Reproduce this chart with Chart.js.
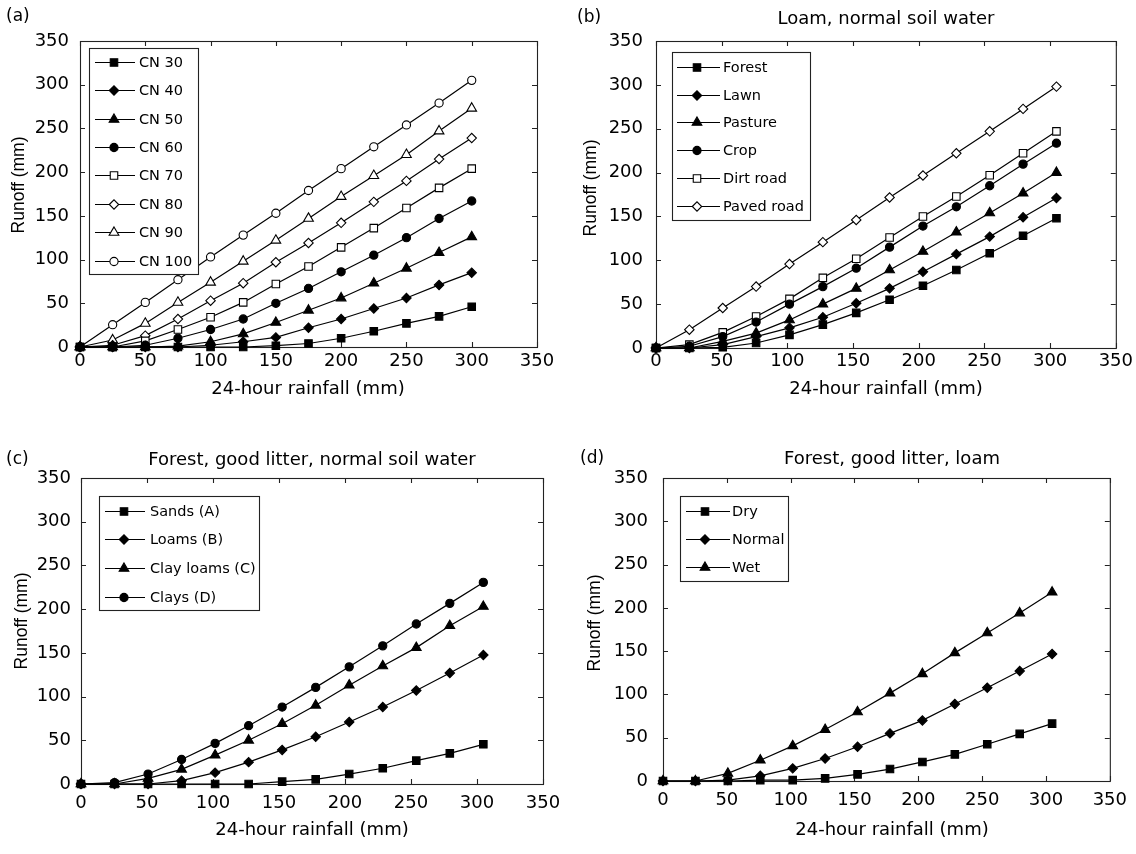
<!DOCTYPE html>
<html>
<head>
<title>Runoff vs 24-hour rainfall</title>
<script src="https://cdn.jsdelivr.net/npm/chart.js"></script>
<style>
  body { margin: 0; background: #fff; }
  #wrap { position: relative; width: 1136px; height: 854px; }
  #wrap canvas { position: absolute; left: 0; top: 0; }
</style>
</head>
<body>
<div id="wrap">
  <canvas id="chartA" width="1136" height="854"></canvas>
  <canvas id="chartB" width="1136" height="854"></canvas>
  <canvas id="chartC" width="1136" height="854"></canvas>
  <canvas id="chartD" width="1136" height="854"></canvas>
</div>
<script>
// rainfall steps (mm); (b)-(d) are 1-inch steps
var rainA = [0, 25, 50, 75, 100, 125, 150, 175, 200, 225, 250, 275, 300];
var rainB = [0, 25.4, 50.8, 76.2, 101.6, 127, 152.4, 177.8, 203.2, 228.6, 254, 279.4, 304.8];
var axisTicks = [0, 50, 100, 150, 200, 250, 300, 350];

// (a) curve numbers
var labelsA = ['CN 30', 'CN 40', 'CN 50', 'CN 60', 'CN 70', 'CN 80', 'CN 90', 'CN 100'];
var cn30 = [0, 0, 0, 0, 0, 0, 1.5, 4, 10, 18, 27, 35, 46];
var cn40 = [0, 0, 0, 0, 2, 6, 11, 22, 32, 44, 56, 71, 85];
var cn50 = [0, 0, 0, 1, 6, 15, 28, 42, 56, 73, 90, 108, 126];
var cn60 = [0, 0, 2, 10, 20, 32, 50, 67, 86, 105, 125, 147, 167];
var cn70 = [0, 0, 7, 20, 34, 51, 72, 92, 114, 136, 159, 182, 204];
var cn80 = [0, 2, 13, 32, 53, 73, 97, 119, 142, 166, 190, 215, 239];
var cn90 = [0, 8, 27, 51, 74, 98, 122, 147, 172, 196, 220, 247, 273];
var cn100 = [0, 25.5, 51, 77, 103, 128, 153, 179, 204, 229, 254, 279, 305];

// (b) land use, loam, normal soil water
var labelsB = ['Forest', 'Lawn', 'Pasture', 'Crop', 'Dirt road', 'Paved road'];
var forest = [0, 0, 0.8, 5.7, 15, 26.6, 40, 55, 71, 89, 108, 128, 148];
var lawn = [0, 0, 3.8, 13, 23, 35, 51, 68, 87, 107, 127, 149, 171];
var pasture = [0, 0, 7.6, 17, 32, 50, 68, 89, 110, 132, 154, 176.5, 200];
var crop = [0, 2, 13, 29.6, 50, 70, 91, 115, 139, 161, 185, 209.6, 233.5];
var dirtRoad = [0, 3.8, 17.8, 36, 56, 80, 101.7, 126, 150, 172.7, 197, 222, 247];
var pavedRoad = [0, 20.9, 45.6, 70, 95.7, 120.7, 146, 171.6, 196.7, 222, 247, 272.6, 298];

// (c) soil groups
var labelsC = ['Sands (A)', 'Loams (B)', 'Clay loams (C)', 'Clays (D)'];
var sands = [0, 0, 0, 0, 0, 0, 2.7, 5.3, 11.4, 18, 26.7, 35, 45.4];
var loams = [0, 0, 0, 3.8, 13, 25, 39, 54, 71, 88, 107, 127, 147.5];
var clayLoams = [0, 0, 6.5, 16.8, 33, 50, 69, 90, 113, 135, 156, 181, 203];
var clays = [0, 1.5, 11.4, 28, 46.5, 66.7, 88, 110.5, 134, 158, 183, 206.6, 230.6];

// (d) antecedent soil water
var labelsD = ['Dry', 'Normal', 'Wet'];
var dry = [0, 0, 0, 1, 1, 3, 7.7, 13.8, 22, 30.7, 42.5, 54.4, 66.3];
var normal = [0, 0, 1, 6, 14.6, 26, 39.5, 55, 70, 89, 107.7, 127, 146.7];
var wet = [0, 0, 8.8, 24, 40.6, 59.4, 79.7, 101.5, 123.8, 148, 171, 194, 218];

var W = 1136, H = 854;
var INK = '#000';
var FONT = '"DejaVu Sans"';
var TICK = 5;

// marker looks
var SQ = { style: 'rect', r: 5.3, fill: INK };
var DI = { style: 'rectRot', r: 4.7, fill: INK };
var TR = { style: 'triangle', r: 5.6, fill: INK };
var CI = { style: 'circle', r: 4.1, fill: INK };
var SQo = { style: 'rect', r: 5.3, fill: '#fff' };
var DIo = { style: 'rectRot', r: 4.7, fill: '#fff' };
var TRo = { style: 'triangle', r: 5.6, fill: '#fff' };
var CIo = { style: 'circle', r: 4.1, fill: '#fff' };

function marker(ctx, m, x, y) {
  ctx.fillStyle = m.fill;
  ctx.strokeStyle = INK;
  ctx.lineWidth = 1.1;
  if (Chart.helpers && Chart.helpers.drawPoint) {
    Chart.helpers.drawPoint(ctx, { pointStyle: m.style, radius: m.r, rotation: 0, borderWidth: 1.1 }, x, y);
  } else {
    ctx.beginPath();
    ctx.arc(x, y, m.r, 0, Math.PI * 2);
    ctx.fill();
    ctx.stroke();
  }
}

function panelPlugin(cfg) {
  return {
    id: 'panel' + cfg.tag,
    beforeDatasetsDraw: function (chart) {
      var ctx = chart.ctx, a = chart.chartArea;
      var xs = chart.scales.x, ys = chart.scales.y;
      ctx.save();
      ctx.strokeStyle = '#222';
      ctx.lineWidth = 1.1;
      ctx.strokeRect(a.left + 0.5, a.top + 0.5, a.right - a.left, a.bottom - a.top);
      ctx.beginPath();
      axisTicks.forEach(function (v) {
        var px = Math.round(xs.getPixelForValue(v)) + 0.5;
        var py = Math.round(ys.getPixelForValue(v)) + 0.5;
        ctx.moveTo(px, a.bottom); ctx.lineTo(px, a.bottom - TICK);
        ctx.moveTo(px, a.top); ctx.lineTo(px, a.top + TICK);
        ctx.moveTo(a.left, py); ctx.lineTo(a.left + TICK, py);
        ctx.moveTo(a.right, py); ctx.lineTo(a.right - TICK, py);
      });
      ctx.stroke();
      ctx.restore();
    },
    afterDatasetsDraw: function (chart) {
      var ctx = chart.ctx, L = cfg.legend;
      ctx.save();
      ctx.fillStyle = '#fff';
      ctx.fillRect(L.x, L.y, L.w, L.h);
      ctx.strokeStyle = '#222';
      ctx.lineWidth = 1.1;
      ctx.strokeRect(L.x + 0.5, L.y + 0.5, L.w, L.h);
      ctx.font = '14.5px ' + FONT;
      ctx.textAlign = 'left';
      ctx.textBaseline = 'middle';
      cfg.labels.forEach(function (lab, i) {
        var y = Math.round(L.row0 + i * L.step) + 0.5;
        ctx.strokeStyle = INK;
        ctx.lineWidth = 1.2;
        ctx.beginPath();
        ctx.moveTo(L.line0, y);
        ctx.lineTo(L.line1, y);
        ctx.stroke();
        marker(ctx, cfg.marks[i], L.mark, y);
        ctx.fillStyle = INK;
        ctx.fillText(lab, L.text, y + 0.5);
      });
      ctx.restore();
    },
    afterDraw: function (chart) {
      var ctx = chart.ctx;
      ctx.save();
      ctx.fillStyle = INK;
      ctx.textBaseline = 'middle';
      ctx.textAlign = 'left';
      ctx.font = '17px ' + FONT;
      ctx.fillText(cfg.panel.text, cfg.panel.x, cfg.panel.y);
      ctx.textAlign = 'center';
      ctx.font = '18px ' + FONT;
      if (cfg.title) ctx.fillText(cfg.title.text, cfg.title.x, cfg.title.y);
      ctx.fillText('24-hour rainfall (mm)', cfg.xTitle.x, cfg.xTitle.y);
      ctx.translate(cfg.yTitle.x, cfg.yTitle.y);
      ctx.rotate(-Math.PI / 2);
      ctx.font = '17.5px "Liberation Sans"';
      ctx.fillText('Runoff (mm)', 0, 0);
      ctx.restore();
    }
  };
}

function makePanel(id, cfg) {
  var area = cfg.area;
  var datasets = cfg.series.map(function (vals, i) {
    var m = cfg.marks[i];
    return {
      label: cfg.labels[i],
      data: cfg.rain.map(function (r, k) { return { x: r, y: vals[k] }; }),
      borderColor: INK,
      borderWidth: 1.2,
      tension: 0,
      fill: false,
      clip: false,
      pointStyle: m.style,
      pointRadius: m.r,
      pointHoverRadius: m.r,
      pointBackgroundColor: m.fill,
      pointBorderColor: INK,
      pointBorderWidth: 1.1
    };
  });
  var tickFont = { family: FONT, size: 18 };
  return new Chart(document.getElementById(id), {
    type: 'line',
    data: { datasets: datasets },
    options: {
      responsive: false,
      animation: false,
      devicePixelRatio: 1,
      events: [],
      layout: {
        padding: {
          left: area.left - 60,
          top: area.top,
          right: W - area.right,
          bottom: H - area.bottom - 40
        }
      },
      scales: {
        x: {
          type: 'linear', min: 0, max: 350,
          afterFit: function (s) { s.height = 40; },
          grid: { display: false, drawTicks: false },
          border: { display: false },
          ticks: { stepSize: 50, padding: cfg.xPad, font: tickFont, color: INK, maxRotation: 0, autoSkip: false }
        },
        y: {
          type: 'linear', min: 0, max: 350,
          afterFit: function (s) { s.width = 60; },
          grid: { display: false, drawTicks: false },
          border: { display: false },
          ticks: { stepSize: 50, padding: cfg.yPad, font: tickFont, color: INK, autoSkip: false }
        }
      },
      plugins: { legend: { display: false }, tooltip: { enabled: false } }
    },
    plugins: [panelPlugin(cfg)]
  });
}

makePanel('chartA', {
  tag: 'A', rain: rainA, labels: labelsA,
  series: [cn30, cn40, cn50, cn60, cn70, cn80, cn90, cn100],
  marks: [SQ, DI, TR, CI, SQo, DIo, TRo, CIo],
  area: { left: 80, top: 41, right: 537, bottom: 347 },
  xPad: 4, yPad: 11,
  panel: { text: '(a)', x: 6, y: 17 },
  title: null,
  yTitle: { x: 19, y: 185 },
  xTitle: { x: 308, y: 389 },
  legend: { x: 89, y: 48, w: 109, h: 226, row0: 61.7, step: 28.4, line0: 95, line1: 135, mark: 114, text: 139 }
});

makePanel('chartB', {
  tag: 'B', rain: rainB, labels: labelsB,
  series: [forest, lawn, pasture, crop, dirtRoad, pavedRoad],
  marks: [SQ, DI, TR, CI, SQo, DIo],
  area: { left: 656, top: 41, right: 1116, bottom: 348 },
  xPad: 3, yPad: 13,
  panel: { text: '(b)', x: 577, y: 18 },
  title: { text: 'Loam, normal soil water', x: 886, y: 19 },
  yTitle: { x: 591, y: 188 },
  xTitle: { x: 886, y: 389 },
  legend: { x: 672, y: 52, w: 138, h: 168, row0: 66.7, step: 27.8, line0: 677, line1: 720, mark: 697, text: 723 }
});

makePanel('chartC', {
  tag: 'C', rain: rainB, labels: labelsC,
  series: [sands, loams, clayLoams, clays],
  marks: [SQ, DI, TR, CI],
  area: { left: 81, top: 478, right: 543, bottom: 784 },
  xPad: 9, yPad: 10,
  panel: { text: '(c)', x: 6, y: 460 },
  title: { text: 'Forest, good litter, normal soil water', x: 312, y: 460 },
  yTitle: { x: 22, y: 621 },
  xTitle: { x: 312, y: 830 },
  legend: { x: 99, y: 496, w: 160, h: 114, row0: 510.7, step: 28.6, line0: 105, line1: 145, mark: 124, text: 150 }
});

makePanel('chartD', {
  tag: 'D', rain: rainB, labels: labelsD,
  series: [dry, normal, wet],
  marks: [SQ, DI, TR],
  area: { left: 663, top: 478, right: 1121, bottom: 781 },
  xPad: 9, yPad: 15,
  panel: { text: '(d)', x: 580, y: 459 },
  title: { text: 'Forest, good litter, loam', x: 892, y: 459 },
  yTitle: { x: 595, y: 623 },
  xTitle: { x: 892, y: 830 },
  legend: { x: 680, y: 496, w: 108, h: 85, row0: 510.7, step: 28.3, line0: 686, line1: 730, mark: 705, text: 732 }
});
</script>
</body>
</html>
